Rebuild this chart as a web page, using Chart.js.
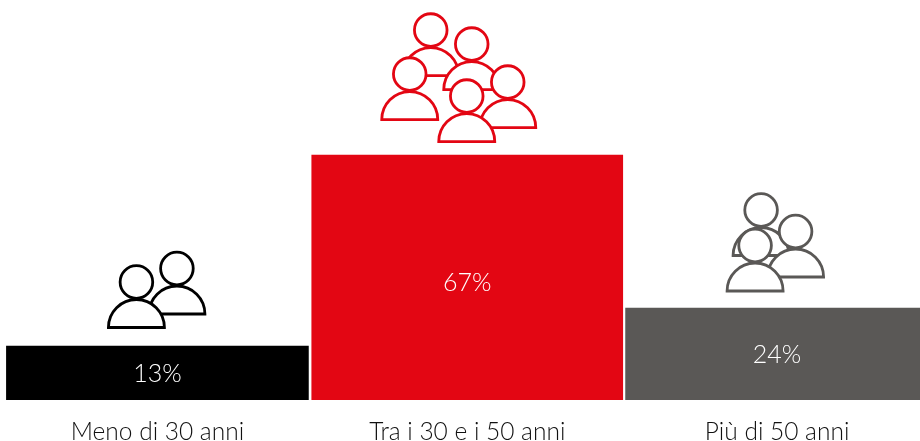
<!DOCTYPE html>
<html lang="it">
<head>
    <meta charset="UTF-8">
    <title>Età dei dipendenti</title>
    <script src="https://cdn.jsdelivr.net/npm/chart.js"></script>
    <style>
        html, body { margin: 0; padding: 0; background: #fff; overflow: hidden; }
        canvas { display: block; }
    </style>
</head>
<body>
    <!-- a little wider than the window: the last bar runs off the right edge -->
    <canvas id="ageChart" width="932" height="441"></canvas>
    <script>
        const categories = ['Meno di 30 anni', 'Tra i 30 e i 50 anni', 'Più di 50 anni'];
        // printed on the bars
        const percentLabels = ['13%', '67%', '24%'];
        // bar lengths; the short bars are drawn a bit taller than their printed share
        const barValues = [14.77, 67, 25.16];
        const barColors = ['#000000', '#e30613', '#5a5856'];
        const barWidths = [302, 311, 303];
        const iconColors = ['#000000', '#e30613', '#5a5856'];

        const FONT = 'Lato, sans-serif';

        // head centre of each person, measured from the top centre of its bar, back to front
        const groups = [
            [[19.5, -77.5], [-21, -64]],
            [[-36.5, -125], [-57.5, -81], [4.5, -111], [40.5, -73], [-0.5, -59]],
            [[-16, -98], [18.5, -76.5], [-22, -62.5]]
        ];

        function drawPerson(ctx, x, y) {
            ctx.beginPath();
            ctx.arc(x, y + 45.5, 28, Math.PI, 0);
            ctx.closePath();
            ctx.fill();
            ctx.stroke();
            ctx.beginPath();
            ctx.arc(x, y, 16.3, 0, Math.PI * 2);
            ctx.fill();
            ctx.stroke();
        }

        const peopleIcons = {
            id: 'peopleIcons',
            afterDatasetsDraw(chart) {
                const ctx = chart.ctx;
                ctx.save();
                ctx.fillStyle = '#fff';
                ctx.lineWidth = 2.8;
                ctx.lineJoin = 'miter';
                groups.forEach((people, i) => {
                    const bar = chart.getDatasetMeta(i).data[i];
                    ctx.strokeStyle = iconColors[i];
                    people.forEach(p => drawPerson(ctx, bar.x + p[0], bar.y + p[1]));
                });
                ctx.restore();
            }
        };

        const percentText = {
            id: 'percentText',
            afterDatasetsDraw(chart) {
                const ctx = chart.ctx;
                ctx.save();
                ctx.fillStyle = '#fff';
                ctx.font = '300 25px ' + FONT;
                ctx.textAlign = 'center';
                ctx.textBaseline = 'middle';
                percentLabels.forEach((label, i) => {
                    const bar = chart.getDatasetMeta(i).data[i];
                    const middle = (bar.y + bar.base) / 2;
                    ctx.fillText(label, bar.x, middle + (i === 1 ? 5.5 : 1));
                });
                ctx.restore();
            }
        };

        new Chart(document.getElementById('ageChart').getContext('2d'), {
            type: 'bar',
            data: {
                labels: categories,
                datasets: categories.map((c, i) => ({
                    label: c,
                    data: categories.map((_, j) => (j === i ? barValues[i] : null)),
                    backgroundColor: barColors[i],
                    barThickness: barWidths[i]
                }))
            },
            options: {
                responsive: false,
                animation: false,
                layout: { padding: { left: 2.5, right: 0, top: 0, bottom: 0 } },
                plugins: { legend: { display: false }, tooltip: { enabled: false } },
                scales: {
                    x: {
                        stacked: true,
                        grid: { display: false, drawTicks: false },
                        border: { display: false },
                        afterFit(scale) { scale.height = 41; },
                        ticks: {
                            padding: 17,
                            maxRotation: 0,
                            autoSkip: false,
                            color: '#111111',
                            font: { family: FONT, size: 24.5, weight: '300' }
                        }
                    },
                    y: {
                        stacked: true,
                        display: false,
                        min: 0,
                        max: 109.4
                    }
                }
            },
            plugins: [peopleIcons, percentText]
        });
    </script>
</body>
</html>
